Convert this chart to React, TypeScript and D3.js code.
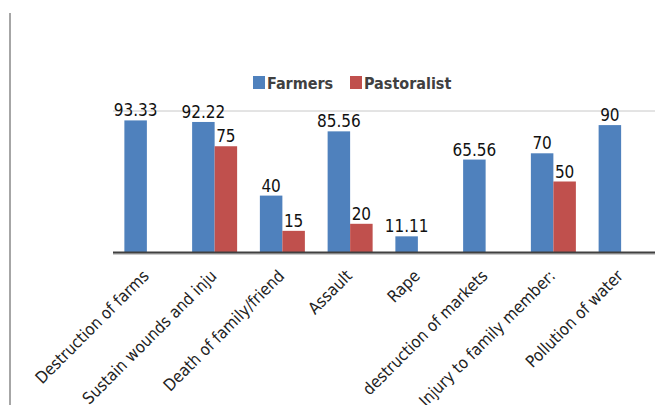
import { useEffect, useRef } from "react";
import * as d3 from "d3";

const categories = [
  "Destruction of farms",
  "Sustain wounds and inju",
  "Death of family/friend",
  "Assault",
  "Rape",
  "destruction of markets",
  "Injury to family member:",
  "Pollution of water",
];
const farmers = [93.33, 92.22, 40, 85.56, 11.11, 65.56, 70, 90];
const pastoralist: (number | null)[] = [null, 75, 15, 20, null, null, 50, null];
const seriesNames = ["Farmers", "Pastoralist"];
const seriesColors = ["#4F81BD", "#C0504D"];

const W = 666;
const H = 405;
const FONT = "'DejaVu Sans Condensed', 'Liberation Sans', sans-serif";

const App = () => {
  const ref = useRef<SVGSVGElement>(null);

  useEffect(() => {
    const svg = d3.select(ref.current);
    svg.selectAll("*").remove();

    const x = d3.scaleBand<number>().domain(d3.range(categories.length)).range([113, 655]);
    const y = d3.scaleLinear().domain([0, 100]).range([252, 111]);
    const barW = 22.5;
    const groupOff = (x.bandwidth() - barW * 2) / 2;

    // outer frame line on the left
    svg.append("line")
      .attr("x1", 10).attr("x2", 10).attr("y1", 13).attr("y2", H)
      .attr("stroke", "#a6a6a6").attr("stroke-width", 2);

    // gridline at 100
    svg.append("g")
      .selectAll("line")
      .data([100])
      .enter()
      .append("line")
      .attr("x1", 113).attr("x2", 655)
      .attr("y1", (d) => y(d)).attr("y2", (d) => y(d))
      .attr("stroke", "#c8c8c8").attr("stroke-width", 1);

    const series = [farmers, pastoralist];
    series.forEach((vals, si) => {
      const pts = vals
        .map((v, i) => ({ v, i }))
        .filter((d) => d.v !== null) as { v: number; i: number }[];
      const g = svg.append("g");
      g.selectAll("rect")
        .data(pts)
        .enter()
        .append("rect")
        .attr("x", (d) => (x(d.i) as number) + groupOff + si * barW)
        .attr("y", (d) => y(d.v))
        .attr("width", barW)
        .attr("height", (d) => y(0) - y(d.v))
        .attr("fill", seriesColors[si]);
      g.selectAll("text")
        .data(pts)
        .enter()
        .append("text")
        .attr("x", (d) => (x(d.i) as number) + groupOff + si * barW + barW / 2)
        .attr("y", (d) => y(d.v) - 4)
        .attr("text-anchor", "middle")
        .attr("font-family", FONT)
        .attr("font-size", 17)
        .attr("fill", "#111")
        .text((d) => String(d.v));
    });

    // axis baseline
    svg.append("line")
      .attr("x1", 113).attr("x2", 655).attr("y1", 254).attr("y2", 254)
      .attr("stroke", "#9a9a9a").attr("stroke-width", 1);
    svg.append("line")
      .attr("x1", 113).attr("x2", 655).attr("y1", 252.5).attr("y2", 252.5)
      .attr("stroke", "#404040").attr("stroke-width", 2);

    // category labels
    svg.append("g")
      .selectAll("text")
      .data(categories)
      .enter()
      .append("text")
      .attr("transform", (d, i) => {
        const cx = (x(i) as number) + x.bandwidth() / 2 + 3;
        return `translate(${cx},277) rotate(-45)`;
      })
      .attr("text-anchor", "end")
      .attr("font-family", FONT)
      .attr("font-size", 16.5)
      .attr("fill", "#222")
      .text((d) => d);

    // legend
    const legX = [253, 350];
    const leg = svg.append("g");
    seriesNames.forEach((name, i) => {
      leg.append("rect")
        .attr("x", legX[i]).attr("y", 76).attr("width", 12).attr("height", 13)
        .attr("fill", seriesColors[i]);
      leg.append("text")
        .attr("x", legX[i] + 14).attr("y", 89)
        .attr("font-family", FONT)
        .attr("font-size", 16)
        .attr("font-weight", "bold")
        .attr("fill", "#404040")
        .text(name);
    });
  }, []);

  return (
    <svg ref={ref} width={W} height={H} style={{ position: "absolute", left: 0, top: 0, background: "#fff" }} />
  );
};

export default App;
